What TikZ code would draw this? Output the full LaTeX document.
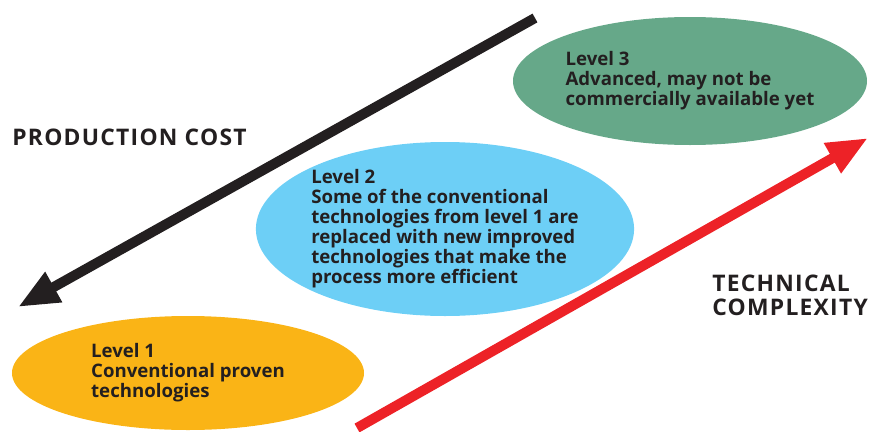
\documentclass[tikz,border=0pt]{standalone}
\usepackage{fontspec}
\setmainfont{Open Sans}
\usepackage{xcolor}
\definecolor{lvl-yellow}{RGB}{250,180,22}
\definecolor{lvl-blue}{RGB}{109,207,246}
\definecolor{lvl-green}{RGB}{102,168,137}
\definecolor{arr-red}{RGB}{237,34,39}
\definecolor{ink}{RGB}{35,31,32}
\usepackage{tikz}
\usetikzlibrary{shapes.geometric,arrows.meta}

\tikzset{
	level/.style={ellipse, inner sep=0pt, align=left, text=ink,
		font=\bfseries\fontsize{10.6}{11.4}\selectfont},
	axis label/.style={anchor=base west, inner sep=0pt, align=left, text=ink,
		font=\bfseries\fontsize{13}{13.6}\selectfont\addfontfeatures{LetterSpace=5.5}},
	fat arrow/.style={line width=5.7pt, -{Triangle[length=0.82cm,width=0.64cm]}}
}

\begin{document}
\begin{tikzpicture}
	\useasboundingbox (0,0) rectangle (17.38,8.62);

	\node[level, fill=lvl-yellow, minimum width=7.04cm, minimum height=2.28cm]
		(level1) at (3.76,1.16) {Level 1\\Conventional proven\\technologies};
	\node[level, fill=lvl-blue, minimum width=7.16cm, minimum height=3.48cm]
		(level2) at (8.9,4.04) {Level 2\\Some of the conventional\\technologies from level 1 are\\
			replaced with new improved\\technologies that make the\\process more efficient};
	\node[level, fill=lvl-green, minimum width=7.08cm, minimum height=2.56cm]
		(level3) at (13.8,7.0) {Level 3\\Advanced, may not be\\commercially available yet};

%	=======================================

	\coordinate (cost start) at (10.7,8.26);
	\coordinate (cost end) at (0.36,2.48);
	\coordinate (tech start) at (7.14,0.06);
	\coordinate (tech end) at (17.36,5.86);

	\draw[fat arrow, ink] (cost start)--(cost end);
	\draw[fat arrow, arr-red] (tech start)--(tech end);

	\node[axis label] (cost) at (0.24,5.72) {PRODUCTION COST};
	\node[axis label] (tech) at (14.24,2.32) {TECHNICAL\\COMPLEXITY};
\end{tikzpicture}
\end{document}
